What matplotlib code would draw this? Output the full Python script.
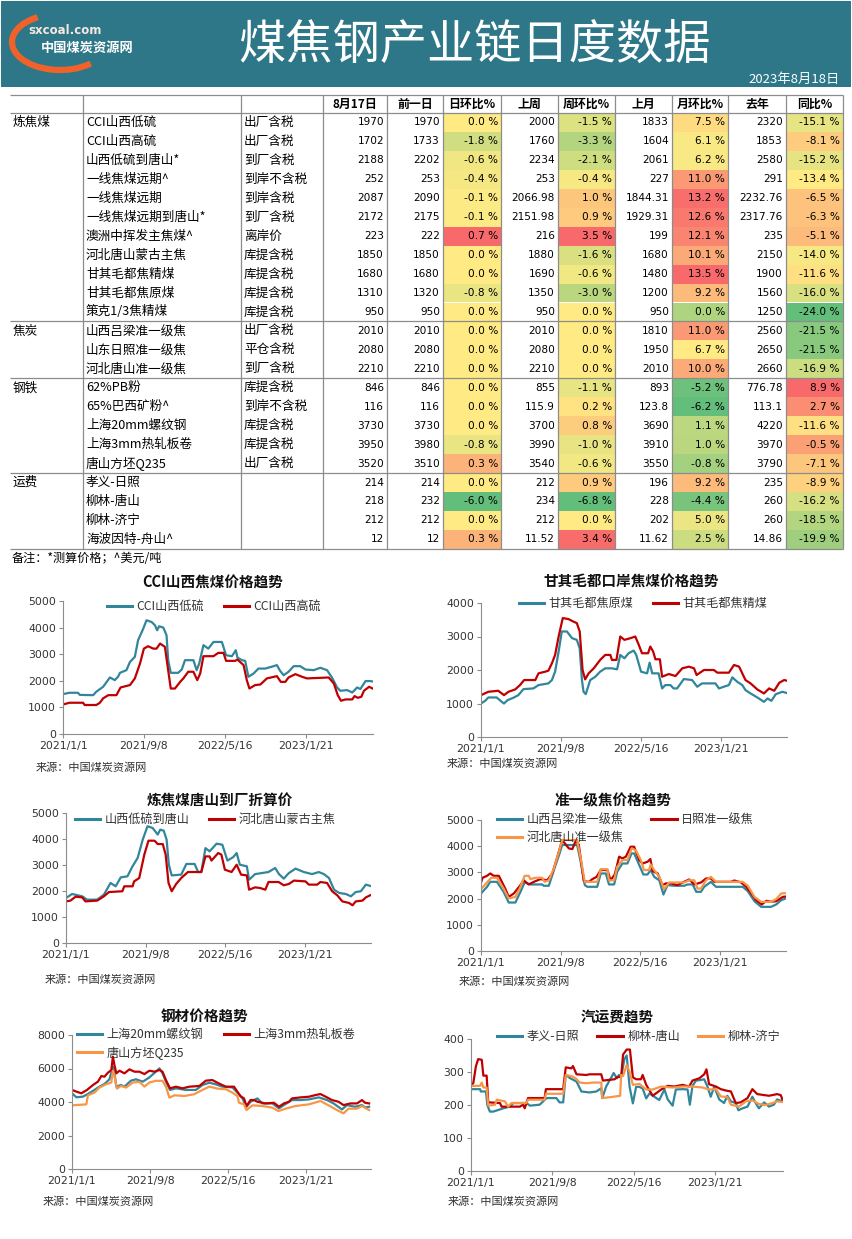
import matplotlib
matplotlib.use("Agg")
import matplotlib.pyplot as plt
import matplotlib.patches as mpatches
from matplotlib.colors import LinearSegmentedColormap, TwoSlopeNorm
import numpy as np
import pandas as pd

W, H = 853, 1239
CJK = ["Noto Sans CJK SC", "DejaVu Sans"]
NUM = ["DejaVu Sans", "Noto Sans CJK SC"]

TEAL = "#31869B"
RED = "#C00000"
ORANGE = "#F79646"
GRID = "#8C8C8C"

# ---------------- table data ----------------
GROUPS = [("炼焦煤", 11), ("焦炭", 3), ("钢铁", 5), ("运费", 4)]
NAMES = ["CCI山西低硫", "CCI山西高硫", "山西低硫到唐山*", "一线焦煤远期^", "一线焦煤远期",
         "一线焦煤远期到唐山*", "澳洲中挥发主焦煤^", "河北唐山蒙古主焦", "甘其毛都焦精煤",
         "甘其毛都焦原煤", "策克1/3焦精煤",
         "山西吕梁准一级焦", "山东日照准一级焦", "河北唐山准一级焦",
         "62%PB粉", "65%巴西矿粉^", "上海20mm螺纹钢", "上海3mm热轧板卷", "唐山方坯Q235",
         "孝义-日照", "柳林-唐山", "柳林-济宁", "海波因特-舟山^"]
TAX = ["出厂含税", "出厂含税", "到厂含税", "到岸不含税", "到岸含税", "到厂含税", "离岸价",
       "库提含税", "库提含税", "库提含税", "库提含税",
       "出厂含税", "平仓含税", "到厂含税",
       "库提含税", "到岸不含税", "库提含税", "库提含税", "出厂含税",
       "", "", "", ""]
TODAY = [1970, 1702, 2188, 252, 2087, 2172, 223, 1850, 1680, 1310, 950,
         2010, 2080, 2210, 846, 116, 3730, 3950, 3520, 214, 218, 212, 12]
PREV_DAY = [1970, 1733, 2202, 253, 2090, 2175, 222, 1850, 1680, 1320, 950,
            2010, 2080, 2210, 846, 116, 3730, 3980, 3510, 214, 232, 212, 12]
DAY_PCT = [0.0, -1.8, -0.6, -0.4, -0.1, -0.1, 0.7, 0.0, 0.0, -0.8, 0.0,
           0.0, 0.0, 0.0, 0.0, 0.0, 0.0, -0.8, 0.3, 0.0, -6.0, 0.0, 0.3]
LAST_WEEK = [2000, 1760, 2234, 253, 2066.98, 2151.98, 216, 1880, 1690, 1350, 950,
             2010, 2080, 2210, 855, 115.9, 3700, 3990, 3540, 212, 234, 212, 11.52]
WEEK_PCT = [-1.5, -3.3, -2.1, -0.4, 1.0, 0.9, 3.5, -1.6, -0.6, -3.0, 0.0,
            0.0, 0.0, 0.0, -1.1, 0.2, 0.8, -1.0, -0.6, 0.9, -6.8, 0.0, 3.4]
LAST_MONTH = [1833, 1604, 2061, 227, 1844.31, 1929.31, 199, 1680, 1480, 1200, 950,
              1810, 1950, 2010, 893, 123.8, 3690, 3910, 3550, 196, 228, 202, 11.62]
MONTH_PCT = [7.5, 6.1, 6.2, 11.0, 13.2, 12.6, 12.1, 10.1, 13.5, 9.2, 0.0,
             11.0, 6.7, 10.0, -5.2, -6.2, 1.1, 1.0, -0.8, 9.2, -4.4, 5.0, 2.5]
LAST_YEAR = [2320, 1853, 2580, 291, 2232.76, 2317.76, 235, 2150, 1900, 1560, 1250,
             2560, 2650, 2660, 776.78, 113.1, 4220, 3970, 3790, 235, 260, 260, 14.86]
YEAR_PCT = [-15.1, -8.1, -15.2, -13.4, -6.5, -6.3, -5.1, -14.0, -11.6, -16.0, -24.0,
            -21.5, -21.5, -16.9, 8.9, 2.7, -11.6, -0.5, -7.1, -8.9, -16.2, -18.5, -19.9]
HEADERS = ["8月17日", "前一日", "日环比%", "上周", "周环比%", "上月", "月环比%", "去年", "同比%"]

# ---------------- trend data: (days since 2021-01-01, value) ----------------
START = pd.Timestamp("2021-01-01")
END = pd.Timestamp("2023-08-17")
XTICK_DATES = ["2021-01-01", "2021-09-08", "2022-05-16", "2023-01-21"]
XTICK_LABELS = ["2021/1/1", "2021/9/8", "2022/5/16", "2023/1/21"]

CCI_LOW = [(0, 1500), (20, 1550), (46, 1550), (52, 1470), (93, 1460), (103, 1590), (124, 1775),
           (145, 2125), (160, 2025), (170, 2150), (176, 2300), (196, 2400), (207, 2710), (222, 2900),
           (232, 3525), (248, 3960), (258, 4275), (274, 4210), (284, 4090), (291, 3900), (297, 4050),
           (310, 4000), (320, 3710), (325, 2775), (333, 2300), (356, 2300), (367, 2425), (377, 2775),
           (403, 2775), (413, 2400), (421, 2650), (434, 3340), (449, 3210), (465, 3460), (491, 3460),
           (504, 2960), (522, 2925), (534, 3150), (539, 2875), (553, 2775), (563, 2750), (573, 2150),
           (589, 2275), (604, 2460), (625, 2460), (651, 2550), (661, 2590), (671, 2375), (682, 2210),
           (697, 2340), (713, 2550), (733, 2550), (749, 2425), (775, 2400), (795, 2490), (816, 2400),
           (831, 2125), (847, 1750), (857, 1625), (878, 1650), (894, 1560), (909, 1750), (919, 1690),
           (935, 1990), (950, 1990), (958, 1970)]
CCI_HIGH = [(0, 1110), (20, 1175), (62, 1175), (67, 1090), (103, 1090), (114, 1175), (124, 1340),
            (140, 1460), (165, 1460), (178, 1750), (207, 1840), (222, 2090), (238, 2650), (250, 3210),
            (263, 3300), (279, 3210), (289, 3210), (300, 3400), (315, 3275), (325, 2400), (333, 1710),
            (346, 1710), (362, 1960), (372, 2090), (387, 2340), (403, 2340), (415, 2025), (424, 2275),
            (434, 2925), (465, 2925), (480, 3050), (496, 3050), (504, 2750), (532, 2750), (539, 2800),
            (558, 2590), (568, 2025), (576, 1710), (594, 1840), (610, 1860), (630, 2090), (661, 2175),
            (673, 1960), (687, 1960), (697, 2125), (718, 2250), (739, 2150), (754, 2090), (821, 2125),
            (837, 1900), (849, 1460), (859, 1250), (873, 1300), (894, 1300), (901, 1425), (911, 1360),
            (922, 1400), (930, 1625), (946, 1775), (958, 1702)]

GQ_RAW = [(0, 1000), (13, 1080), (23, 1180), (49, 1180), (65, 1050), (72, 1000), (83, 1100),
          (101, 1170), (117, 1250), (133, 1430), (164, 1450), (180, 1550), (211, 1600), (222, 1700),
          (232, 1950), (243, 2550), (253, 3150), (269, 3150), (285, 2950), (300, 2900), (309, 2650),
          (316, 1700), (321, 1350), (328, 1280), (342, 1700), (358, 1800), (373, 1950), (389, 2050),
          (410, 2050), (426, 2020), (436, 2450), (449, 2350), (462, 2500), (478, 2580), (486, 2450),
          (501, 1950), (520, 1900), (528, 2220), (536, 1900), (556, 1900), (567, 1450), (577, 1550),
          (593, 1550), (603, 1450), (614, 1450), (635, 1730), (661, 1700), (677, 1500), (692, 1600),
          (734, 1600), (745, 1450), (760, 1500), (776, 1550), (787, 1780), (802, 1650), (818, 1550),
          (828, 1400), (844, 1300), (865, 1180), (886, 1050), (897, 1150), (909, 1080), (923, 1280),
          (944, 1350), (958, 1310)]
GQ_FINE = [(0, 1250), (23, 1350), (54, 1380), (72, 1250), (86, 1350), (107, 1420), (122, 1550),
           (135, 1700), (170, 1700), (180, 1900), (201, 1950), (211, 1980), (222, 2200), (232, 2450),
           (243, 3000), (256, 3550), (274, 3520), (288, 3450), (300, 3400), (309, 3150), (318, 2000),
           (326, 1720), (337, 1900), (353, 2050), (373, 2300), (389, 2450), (405, 2450), (410, 2300),
           (424, 2300), (436, 3000), (449, 2900), (468, 2950), (483, 3000), (494, 2750), (504, 2500),
           (523, 2500), (530, 2700), (539, 2550), (546, 2320), (560, 2320), (567, 1800), (588, 1880),
           (609, 1820), (630, 2050), (651, 2100), (667, 2050), (675, 1850), (698, 2000), (729, 2000),
           (740, 1920), (776, 1920), (792, 2150), (808, 2100), (828, 1700), (844, 1600), (865, 1420),
           (886, 1300), (902, 1450), (918, 1380), (934, 1620), (949, 1700), (958, 1680)]

TS_SX = [(0, 1730), (19, 1885), (51, 1795), (66, 1667), (98, 1667), (119, 1860), (140, 2310),
         (156, 2180), (172, 2525), (193, 2565), (209, 2950), (225, 3270), (241, 3975), (256, 4490),
         (272, 4425), (288, 4170), (296, 4360), (307, 4320), (316, 3975), (323, 3010), (332, 2600),
         (362, 2630), (378, 3040), (404, 3040), (415, 2730), (425, 2730), (438, 3650), (451, 3525),
         (473, 3820), (491, 3780), (507, 3170), (525, 3300), (536, 3460), (546, 3010), (568, 2950),
         (575, 2435), (594, 2650), (615, 2690), (636, 2730), (657, 2885), (669, 2650), (684, 2475),
         (700, 2690), (721, 2860), (747, 2730), (773, 2650), (794, 2730), (810, 2650), (826, 2500),
         (842, 2050), (858, 1925), (879, 1885), (895, 1795), (910, 1960), (926, 1990), (942, 2245),
         (958, 2188)]
TS_MG = [(0, 1600), (14, 1630), (30, 1780), (51, 1755), (61, 1600), (98, 1630), (119, 1795),
         (135, 1960), (177, 1990), (183, 2180), (209, 2180), (214, 2370), (230, 2500), (246, 3400),
         (259, 3935), (278, 3935), (288, 3805), (304, 3805), (313, 3400), (322, 2310), (332, 1990),
         (346, 2270), (362, 2500), (383, 2730), (425, 2730), (438, 3330), (451, 3330), (457, 3170),
         (478, 3460), (488, 3400), (499, 2820), (520, 2730), (536, 3010), (550, 2630), (568, 2600),
         (575, 2050), (594, 2140), (610, 2115), (626, 2050), (636, 2345), (668, 2345), (684, 2220),
         (700, 2270), (716, 2400), (752, 2370), (763, 2245), (789, 2245), (799, 2345), (820, 2310),
         (836, 1990), (852, 1835), (868, 1600), (889, 1540), (900, 1450), (910, 1600), (931, 1630),
         (942, 1755), (958, 1850)]

COKE_LL = [(0, 2195), (19, 2450), (29, 2640), (50, 2640), (71, 2260), (87, 1850), (108, 1850),
           (124, 2260), (137, 2615), (155, 2540), (192, 2540), (197, 2490), (213, 2490), (229, 3090),
           (245, 3660), (255, 4045), (302, 4045), (313, 3410), (326, 2515), (334, 2450), (365, 2450),
           (376, 2960), (392, 2960), (402, 2540), (418, 2540), (428, 3030), (444, 3340), (460, 3340),
           (473, 3725), (481, 3725), (497, 3280), (510, 2920), (523, 2920), (533, 3090), (544, 2830),
           (560, 2700), (573, 2155), (586, 2515), (607, 2490), (638, 2490), (649, 2540), (665, 2540),
           (676, 2260), (691, 2260), (701, 2450), (722, 2640), (738, 2450), (822, 2450), (838, 2285),
           (859, 1900), (880, 1685), (911, 1685), (927, 1775), (943, 1940), (958, 2010)]
COKE_RZ = [(0, 2615), (5, 2795), (19, 2870), (29, 2960), (40, 2870), (56, 2870), (76, 2385),
           (87, 2065), (103, 2195), (124, 2515), (134, 2700), (150, 2540), (166, 2640), (187, 2745),
           (208, 2700), (224, 2960), (239, 3560), (255, 4235), (276, 3915), (287, 3890), (297, 4200),
           (307, 4070), (323, 2665), (339, 2640), (350, 2745), (363, 2830), (376, 3090), (397, 3090),
           (407, 2700), (420, 2920), (434, 3600), (444, 3535), (455, 3600), (470, 3980), (481, 3980),
           (497, 3470), (507, 3340), (523, 3405), (532, 3510), (539, 3050), (555, 2960), (570, 2515),
           (581, 2580), (596, 2580), (617, 2515), (638, 2640), (654, 2730), (670, 2540), (691, 2615),
           (707, 2770), (722, 2770), (733, 2640), (785, 2640), (796, 2690), (817, 2615), (833, 2450),
           (849, 2195), (864, 1940), (882, 1775), (896, 1915), (911, 1880), (927, 1900), (948, 2065),
           (958, 2080)]
COKE_TS = [(0, 2360), (19, 2615), (32, 2795), (50, 2795), (71, 2385), (87, 2005), (108, 2065),
           (124, 2450), (137, 2870), (150, 2870), (155, 2745), (171, 2795), (192, 2795), (200, 2640),
           (213, 2700), (229, 3150), (245, 3790), (255, 4235), (302, 4235), (315, 3410), (326, 2640),
           (365, 2640), (376, 3125), (397, 3125), (402, 2700), (418, 2700), (428, 3215), (444, 3470),
           (460, 3470), (473, 3915), (486, 3850), (502, 3470), (512, 3090), (528, 3090), (533, 3305),
           (542, 3125), (560, 2830), (575, 2360), (591, 2615), (638, 2615), (654, 2700), (670, 2700),
           (680, 2385), (691, 2385), (707, 2700), (722, 2830), (738, 2640), (822, 2640), (838, 2490),
           (859, 2065), (880, 1875), (911, 1875), (927, 1980), (943, 2195), (958, 2210)]

STEEL_REBAR = [(0, 4520), (14, 4280), (35, 4320), (51, 4480), (72, 4720), (88, 4915), (104, 5075),
               (120, 5355), (131, 6110), (136, 5710), (142, 4915), (157, 5015), (168, 4915),
               (189, 5275), (205, 5355), (227, 5215), (248, 5470), (269, 5810), (280, 6010),
               (290, 5710), (301, 5215), (314, 4720), (333, 4815), (365, 4720), (397, 4720),
               (418, 5015), (440, 5150), (461, 5055), (482, 4915), (514, 4870), (530, 4560),
               (546, 4215), (559, 3715), (572, 4015), (594, 4215), (610, 3915), (642, 3915),
               (663, 3620), (684, 3875), (705, 4115), (732, 4115), (759, 4155), (791, 4275),
               (817, 4115), (838, 3915), (865, 3555), (881, 3815), (907, 3715), (929, 3815),
               (939, 3675), (952, 3715)]
STEEL_HRC = [(0, 4720), (14, 4620), (30, 4520), (48, 4720), (67, 5010), (83, 5215), (94, 5550),
             (104, 5510), (115, 5750), (126, 5910), (131, 6710), (136, 6210), (142, 5710),
             (152, 5870), (168, 5710), (184, 5950), (200, 5810), (216, 5810), (232, 5670),
             (248, 5870), (264, 5810), (280, 5910), (290, 5810), (301, 5310), (314, 4815),
             (333, 4915), (354, 4815), (376, 4915), (408, 4955), (429, 5275), (450, 5310),
             (470, 5110), (493, 4915), (519, 4915), (530, 4615), (540, 4350), (551, 4215),
             (559, 3755), (572, 4115), (583, 4115), (594, 4015), (620, 3915), (647, 3955),
             (663, 3715), (679, 3915), (695, 4015), (705, 4215), (732, 4275), (759, 4315),
             (780, 4415), (796, 4475), (817, 4275), (833, 4115), (854, 4015), (870, 3815),
             (892, 3915), (913, 3915), (929, 4115), (939, 3955), (952, 3915)]
STEEL_BILLET = [(0, 3800), (46, 3860), (51, 4400), (72, 4560), (88, 4860), (110, 5065), (126, 5165),
                (131, 5865), (136, 5565), (144, 4800), (157, 4960), (173, 4860), (195, 5165),
                (216, 5200), (232, 4920), (248, 5165), (269, 5265), (290, 5265), (301, 4920),
                (312, 4260), (328, 4400), (360, 4360), (391, 4460), (418, 4720), (440, 4920),
                (466, 4800), (493, 4760), (514, 4560), (530, 4360), (535, 3960), (551, 3860),
                (559, 3520), (578, 3800), (610, 3760), (642, 3660), (661, 3460), (684, 3600),
                (716, 3760), (759, 3860), (796, 4060), (822, 3800), (849, 3520), (870, 3320),
                (886, 3600), (913, 3600), (929, 3760), (952, 3520)]

FREIGHT_XY = [(0, 248), (28, 248), (30, 241), (46, 241), (50, 200), (58, 180), (68, 180), (84, 185),
              (99, 190), (119, 195), (130, 206), (170, 206), (181, 198), (211, 201), (232, 221),
              (262, 221), (272, 208), (283, 208), (291, 292), (303, 282), (324, 271), (339, 241),
              (364, 238), (385, 241), (400, 251), (403, 221), (415, 256), (430, 282), (438, 297),
              (448, 281), (454, 291), (461, 284), (471, 339), (478, 350), (487, 255), (497, 205),
              (507, 255), (517, 255), (527, 250), (538, 220), (548, 235), (563, 225), (578, 215),
              (594, 247), (604, 217), (619, 198), (629, 247), (650, 248), (665, 247), (672, 201),
              (680, 258), (691, 274), (706, 276), (716, 278), (726, 256), (736, 225), (747, 256),
              (762, 217), (777, 206), (787, 228), (798, 211), (813, 206), (821, 184), (834, 190),
              (849, 195), (864, 225), (874, 206), (884, 190), (900, 208), (915, 195), (930, 201),
              (940, 217), (956, 211)]
FREIGHT_LT = [(0, 261), (7, 266), (15, 317), (22, 339), (33, 337), (38, 289), (48, 289), (53, 208),
              (89, 206), (94, 195), (150, 195), (160, 201), (165, 190), (175, 221), (226, 221),
              (230, 248), (283, 248), (291, 314), (308, 311), (313, 318), (324, 293), (354, 291),
              (364, 293), (400, 293), (405, 274), (441, 278), (448, 284), (461, 286), (467, 353),
              (478, 368), (488, 368), (497, 284), (507, 278), (522, 278), (527, 291), (538, 261),
              (558, 228), (584, 247), (604, 258), (624, 256), (650, 261), (670, 256), (680, 274),
              (701, 281), (716, 293), (723, 308), (731, 263), (752, 256), (767, 248), (782, 244),
              (798, 241), (813, 206), (828, 208), (849, 221), (864, 248), (879, 233), (915, 228),
              (940, 233), (951, 230), (956, 217)]
FREIGHT_LJ = [(0, 258), (28, 258), (33, 268), (38, 253), (48, 253), (53, 198), (74, 201), (79, 216),
              (104, 211), (114, 195), (124, 206), (170, 206), (175, 216), (226, 216), (230, 234),
              (283, 234), (291, 291), (313, 286), (324, 278), (334, 268), (354, 266), (375, 268),
              (400, 268), (403, 221), (430, 224), (458, 228), (461, 291), (467, 288), (478, 321),
              (488, 298), (497, 261), (517, 264), (538, 247), (558, 247), (584, 256), (619, 253),
              (650, 256), (680, 256), (711, 253), (731, 247), (752, 248), (767, 226), (787, 224),
              (798, 201), (823, 195), (844, 211), (864, 214), (884, 203), (905, 200), (925, 206),
              (940, 211), (956, 209)]


def px_axes(fig, left, top, right, bottom):
    return fig.add_axes([left / W, 1 - bottom / H, (right - left) / W, (bottom - top) / H])


def to_dates(pts):
    days = np.array([p[0] for p in pts])
    vals = np.array([p[1] for p in pts])
    return START + pd.to_timedelta(days, unit="D"), vals


def trend_chart(fig, box, title, title_xy, src_xy, ymax, ystep, series, order, leg_xy, ncol, colspace):
    ax = px_axes(fig, *box)
    ax.patch.set_alpha(0)
    handles = {}
    for label, pts, color in series:
        x, y = to_dates(pts)
        (ln,) = ax.plot(x, y, color=color, lw=1.6, solid_joinstyle="round")
        handles[label] = ln
    ax.set_xlim(START, END)
    ax.set_ylim(0, ymax)
    ax.set_yticks(np.arange(0, ymax + 1, ystep))
    ax.set_xticks([pd.Timestamp(d) for d in XTICK_DATES])
    ax.set_xticklabels(XTICK_LABELS)
    for s in ["top", "right"]:
        ax.spines[s].set_visible(False)
    for s in ["left", "bottom"]:
        ax.spines[s].set_color(GRID)
        ax.spines[s].set_linewidth(0.8)
    ax.tick_params(axis="both", direction="out", length=3, width=0.8, color=GRID,
                   labelsize=7.8, labelcolor="#333333", pad=2)
    for t in ax.get_xticklabels() + ax.get_yticklabels():
        t.set_family(NUM)

    fig.text(title_xy[0] / W, 1 - title_xy[1] / H, title, ha="center", va="center",
             fontsize=10.5, fontweight="bold", family=CJK, color="#111111")
    fig.text(src_xy[0] / W, 1 - src_xy[1] / H, "来源：中国煤炭资源网", ha="left", va="center",
             fontsize=8, family=CJK, color="#333333")

    leg = ax.legend([handles[k] for k in order], order, loc="upper left",
                    bbox_to_anchor=(leg_xy[0] / W, 1 - leg_xy[1] / H), bbox_transform=fig.transFigure,
                    ncol=ncol, frameon=False, borderpad=0, borderaxespad=0, handlelength=2.1,
                    handletextpad=0.35, columnspacing=colspace, labelspacing=0.45,
                    prop={"family": CJK, "size": 8.7})
    for t in leg.get_texts():
        t.set_color("#333333")
    for l in leg.get_lines():
        l.set_linewidth(2.2)
    return ax


def main():
    fig = plt.figure(figsize=(W / 100, H / 100), dpi=100)
    fig.patch.set_facecolor("white")
    bg = fig.add_axes([0, 0, 1, 1])
    bg.set_xlim(0, W)
    bg.set_ylim(H, 0)
    bg.axis("off")

    # ---- header band ----
    bg.add_patch(mpatches.Rectangle((1, 1), 850, 86, facecolor="#2D7788", edgecolor="none"))
    bg.add_patch(mpatches.Arc((60, 42), 96, 56, theta1=35, theta2=228, color="#F0622A", lw=4.5))
    bg.text(28, 30, "sxcoal.com", color="#F6E7E0", fontsize=8.5, fontweight="bold",
            family=NUM, ha="left", va="center")
    bg.text(41, 48, "中国煤炭资源网", color="white", fontsize=9.5, fontweight="bold",
            family=CJK, ha="left", va="center")
    bg.text(475, 46, "煤焦钢产业链日度数据", color="white", fontsize=34,
            family=CJK, ha="center", va="center")
    bg.text(840, 79, "2023年8月18日", color="white", fontsize=9.5,
            family=CJK, ha="right", va="center")

    # ---- table ----
    edges = [10, 83, 241, 323, 387, 443, 501, 558, 615, 672, 728, 786, 843]
    top, head_bot, row_h = 95, 113, 18.95
    n_rows = len(NAMES)
    bottom = head_bot + n_rows * row_h

    value_cols = [TODAY, PREV_DAY, DAY_PCT, LAST_WEEK, WEEK_PCT, LAST_MONTH, MONTH_PCT, LAST_YEAR, YEAR_PCT]
    is_pct = [False, False, True, False, True, False, True, False, True]
    # excel style 3-colour scale: min green, median yellow, max red
    cmap = LinearSegmentedColormap.from_list("xl3", ["#63BE7B", "#FFEB84", "#F8696B"])

    for ci, (vals, pct) in enumerate(zip(value_cols, is_pct)):
        x0, x1 = edges[ci + 3], edges[ci + 4]
        if pct:
            v = np.array(vals)
            norm = TwoSlopeNorm(vmin=v.min(), vcenter=np.percentile(v, 50), vmax=v.max())
            for ri, val in enumerate(vals):
                bg.add_patch(mpatches.Rectangle((x0, head_bot + ri * row_h), x1 - x0, row_h,
                                                facecolor=cmap(norm(val)), edgecolor="none"))
        for ri, val in enumerate(vals):
            s = f"{val:.1f} %" if pct else f"{val:g}"
            bg.text(x1 - 3, head_bot + (ri + 0.5) * row_h, s, ha="right", va="center",
                    fontsize=7.6, family=NUM, color="black")
        bg.text((x0 + x1) / 2, (top + head_bot) / 2 + 0.5, HEADERS[ci], ha="center", va="center",
                fontsize=8.6, fontweight="bold", family=CJK, color="black")

    for ri, (name, tax) in enumerate(zip(NAMES, TAX)):
        yc = head_bot + (ri + 0.5) * row_h
        bg.text(edges[1] + 3, yc, name, ha="left", va="center", fontsize=9.1, family=CJK)
        if tax:
            bg.text(edges[2] + 3, yc, tax, ha="left", va="center", fontsize=9.1, family=CJK)

    r = 0
    seps = []
    for gname, cnt in GROUPS:
        bg.text(edges[0] + 3, head_bot + (r + 0.5) * row_h, gname, ha="left", va="center",
                fontsize=9.1, family=CJK)
        r += cnt
        seps.append(head_bot + r * row_h)

    lw = 0.9
    bg.hlines([top, head_bot] + seps, edges[0], edges[-1], color=GRID, lw=lw)
    bg.vlines(edges[1:], top, bottom, color=GRID, lw=lw)

    bg.text(12, 559, "备注：*测算价格；^美元/吨", ha="left", va="center", fontsize=8.7, family=CJK)

    # ---- trend charts ----
    trend_chart(fig, (63, 601, 373, 734), "CCI山西焦煤价格趋势", (213, 583), (36, 768), 5000, 1000,
                [("CCI山西低硫", CCI_LOW, TEAL), ("CCI山西高硫", CCI_HIGH, RED)],
                ["CCI山西低硫", "CCI山西高硫"], (107, 600), 2, 1.6)
    trend_chart(fig, (481, 603, 787, 737), "甘其毛都口岸焦煤价格趋势", (631, 582), (447, 764), 4000, 1000,
                [("甘其毛都焦原煤", GQ_RAW, TEAL), ("甘其毛都焦精煤", GQ_FINE, RED)],
                ["甘其毛都焦原煤", "甘其毛都焦精煤"], (519, 597), 2, 1.6)
    trend_chart(fig, (66, 813, 371, 943), "炼焦煤唐山到厂折算价", (220, 800), (45, 980), 5000, 1000,
                [("山西低硫到唐山", TS_SX, TEAL), ("河北唐山蒙古主焦", TS_MG, RED)],
                ["山西低硫到唐山", "河北唐山蒙古主焦"], (75, 813), 2, 1.6)
    trend_chart(fig, (481, 820, 786, 951), "准一级焦价格趋势", (613, 800), (459, 982), 5000, 1000,
                [("山西吕梁准一级焦", COKE_LL, TEAL), ("日照准一级焦", COKE_RZ, RED),
                 ("河北唐山准一级焦", COKE_TS, ORANGE)],
                ["山西吕梁准一级焦", "河北唐山准一级焦", "日照准一级焦"], (497, 813), 2, 2.3)
    trend_chart(fig, (72, 1035, 371, 1169), "钢材价格趋势", (205, 1017), (43, 1202), 8000, 2000,
                [("上海20mm螺纹钢", STEEL_REBAR, TEAL), ("上海3mm热轧板卷", STEEL_HRC, RED),
                 ("唐山方坯Q235", STEEL_BILLET, ORANGE)],
                ["上海20mm螺纹钢", "唐山方坯Q235", "上海3mm热轧板卷"], (77, 1028), 2, 1.7)
    trend_chart(fig, (471, 1039, 783, 1171), "汽运费趋势", (617, 1017), (448, 1202), 400, 100,
                [("孝义-日照", FREIGHT_XY, TEAL), ("柳林-唐山", FREIGHT_LT, RED),
                 ("柳林-济宁", FREIGHT_LJ, ORANGE)],
                ["孝义-日照", "柳林-唐山", "柳林-济宁"], (497, 1030), 3, 1.5)

    fig.savefig("out.png", dpi=100)
    plt.close(fig)


if __name__ == "__main__":
    main()
